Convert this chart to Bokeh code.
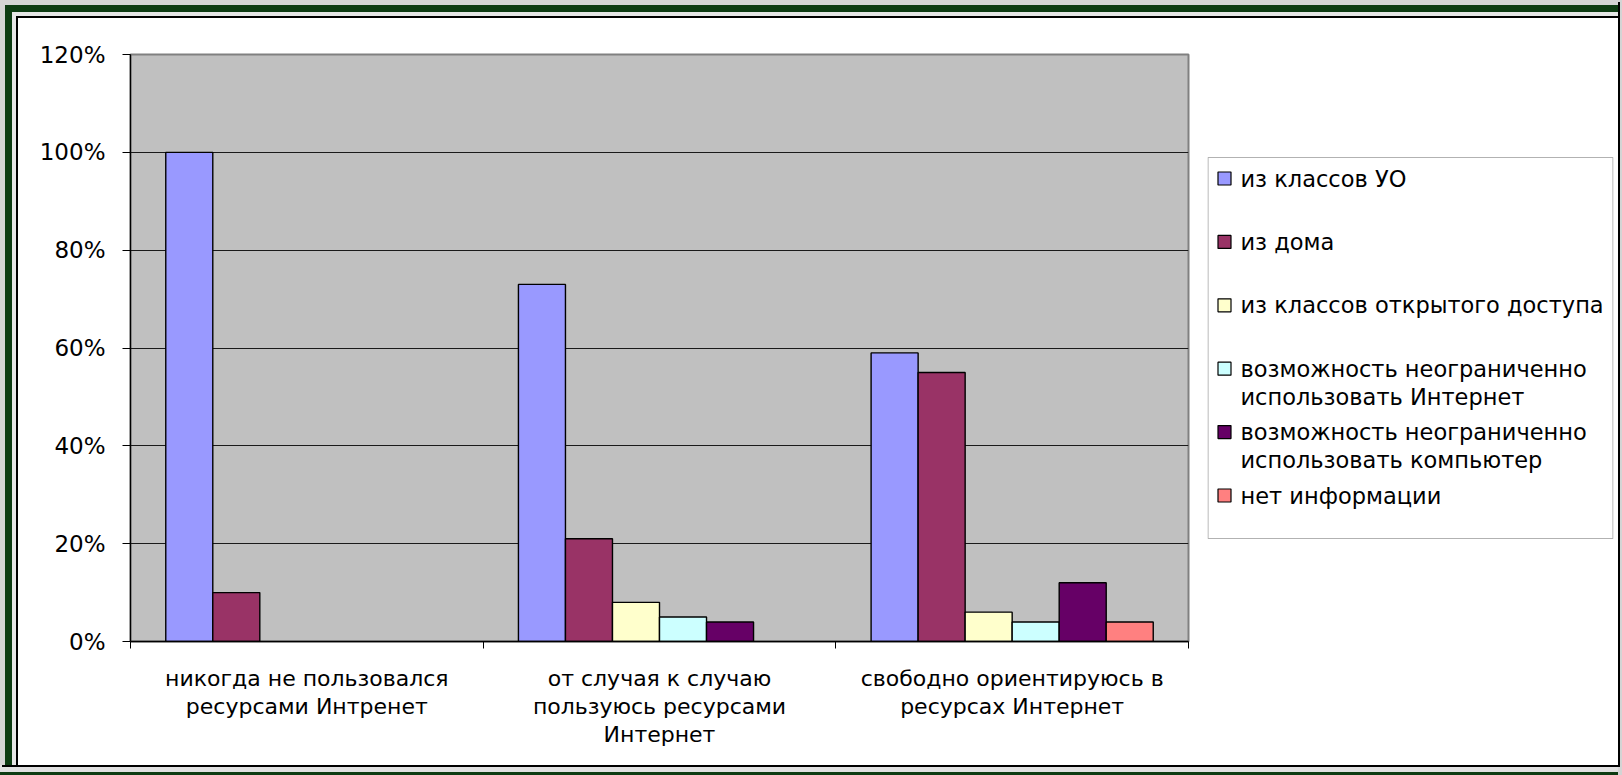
from bokeh.plotting import figure
from bokeh.models import (Range1d, FixedTicker, PrintfTickFormatter, ColumnDataSource,
                          BoxAnnotation)
from bokeh.layouts import row
from bokeh.transform import dodge
from bokeh.core.properties import value
from bokeh.embed import file_html
from bokeh.resources import INLINE

# ---------------- data ----------------
categories = [
    "никогда не пользовался\nресурсами Интренет",
    "от случая к случаю\nпользуюсь ресурсами\nИнтернет",
    "свободно ориентируюсь в\nресурсах Интернет",
]
series_names = [
    "из классов УО",
    "из дома",
    "из классов открытого доступа",
    "возможность неограниченно\nиспользовать Интернет",
    "возможность неограниченно\nиспользовать компьютер",
    "нет информации",
]
series_colors = ["#9999FF", "#993366", "#FFFFCC", "#CCFFFF", "#660066", "#FF8080"]

from_uo_classes = [100, 73, 59]
from_home = [10, 21, 55]
from_open_classes = [None, 8, 6]
unlimited_internet = [None, 5, 4]
unlimited_computer = [None, 4, 12]
no_information = [None, None, 4]

y_ticks = [0, 20, 40, 60, 80, 100, 120]

series_values = [from_uo_classes, from_home, from_open_classes,
                 unlimited_internet, unlimited_computer, no_information]

# ---------------- main chart ----------------
n_cat = len(categories)
n_ser = len(series_names)
gap_width = 1.5
bar_w = 1.0 / (n_ser + gap_width)
centers = [i + 0.5 for i in range(n_cat)]

data = {"x": centers}
for i, vals in enumerate(series_values):
    data[f"s{i}"] = [float("nan") if v is None else v for v in vals]
src = ColumnDataSource(data)

FONT = "DejaVu Sans"
H = 765
B_TOP, B_BOTTOM = 54, 124

p = figure(width=1207, height=H,
           x_range=Range1d(0, n_cat), y_range=Range1d(0, y_ticks[-1]),
           output_backend="svg", toolbar_location=None,
           min_border_left=130, min_border_right=19,
           min_border_top=B_TOP, min_border_bottom=B_BOTTOM)
p.background_fill_color = "#C0C0C0"
p.border_fill_color = None
p.outline_line_color = "#808080"
p.outline_line_width = 2

for i, col in enumerate(series_colors):
    off = (i - (n_ser - 1) / 2.0) * bar_w
    p.vbar(x=dodge("x", off, range=p.x_range), top=f"s{i}", width=bar_w,
           source=src, fill_color=col, line_color="black", line_width=1.4)

p.xgrid.visible = False
p.ygrid.ticker = FixedTicker(ticks=y_ticks)
p.ygrid.grid_line_color = "#1a1a1a"
p.ygrid.grid_line_width = 1

ya = p.yaxis[0]
ya.ticker = FixedTicker(ticks=y_ticks)
ya.formatter = PrintfTickFormatter(format="%d%%")
ya.axis_line_color = "black"
ya.axis_line_width = 1.3
ya.major_tick_line_color = "black"
ya.major_tick_out = 8
ya.major_tick_in = 0
ya.minor_tick_line_color = None
ya.major_label_text_font = FONT
ya.major_label_text_font_size = "23px"
ya.major_label_text_color = "black"
ya.major_label_standoff = 17

xa = p.xaxis[0]
xa.ticker = FixedTicker(ticks=centers, minor_ticks=list(range(n_cat + 1)))
xa.major_label_overrides = {c: lab for c, lab in zip(centers, categories)}
xa.axis_line_color = "black"
xa.axis_line_width = 1.3
xa.major_tick_out = 0
xa.major_tick_in = 0
xa.major_tick_line_color = None
xa.minor_tick_out = 7
xa.minor_tick_in = 0
xa.minor_tick_line_color = "black"
xa.major_label_text_font = FONT
xa.major_label_text_font_size = "22px"
xa.major_label_text_color = "black"
xa.major_label_text_line_height = 1.13
xa.major_label_standoff = 17

# ---------------- legend panel ----------------
FRAME_H = H - B_TOP - B_BOTTOM      # height of the plotting frame (px)
LEG_W = 406                          # legend box width (px)
LEG_TOP = 103                        # legend box top below frame top (px)
LEG_H = 381                          # legend box height (px)
FIRST = 21                           # first item centre below legend top (px)
STEP = 63.4                          # distance between items (px)

leg_src = ColumnDataSource({
    "idx": list(range(n_ser)),
    "label": series_names,
    "color": series_colors,
})

q = figure(width=411, height=H,
           x_range=Range1d(0, LEG_W),
           y_range=Range1d((FRAME_H - LEG_TOP - FIRST) / STEP, -(LEG_TOP + FIRST) / STEP),
           x_axis_type=None, y_axis_type=None,
           output_backend="svg", toolbar_location=None,
           min_border_left=0, min_border_right=5,
           min_border_top=B_TOP, min_border_bottom=B_BOTTOM)
q.background_fill_color = None
q.border_fill_color = None
q.outline_line_color = None
q.xgrid.visible = False
q.ygrid.visible = False

q.add_layout(BoxAnnotation(left=0.5, right=LEG_W - 0.5,
                           top=-FIRST / STEP, bottom=(LEG_H - FIRST) / STEP,
                           fill_color="white", fill_alpha=1.0,
                           line_color="black", line_width=1.2, level="underlay"))

q.rect(x=17, y="idx", width=13, height=13, width_units="screen", height_units="screen",
       source=leg_src, fill_color="color", line_color="black", line_width=1.2)
q.text(x=33, y="idx", text="label", source=leg_src,
       text_font=value(FONT), text_font_size="22.5px", text_color="black",
       text_baseline="top", text_align="left", text_line_height=1.07, y_offset=-13)

shadow = ", ".join([
    "inset 5px 5px 0 0 #d4d4d4",
    "inset 12px 12px 0 0 #0d3b12",
    "inset 16px 16px 0 0 #e6e6e6",
    "inset 18px 18px 0 0 #000000",
    "2px 2px 0 0 #000000",
    "0 7px 0 0 #e0e0e0",
    "0 14px 0 0 #0d3b12",
    "0 0 0 30px #d4d4d4",
])
root = row(p, q, spacing=0, styles={"box-shadow": shadow, "background-color": "white"})

open("out.html", "w").write(file_html(root, INLINE))
